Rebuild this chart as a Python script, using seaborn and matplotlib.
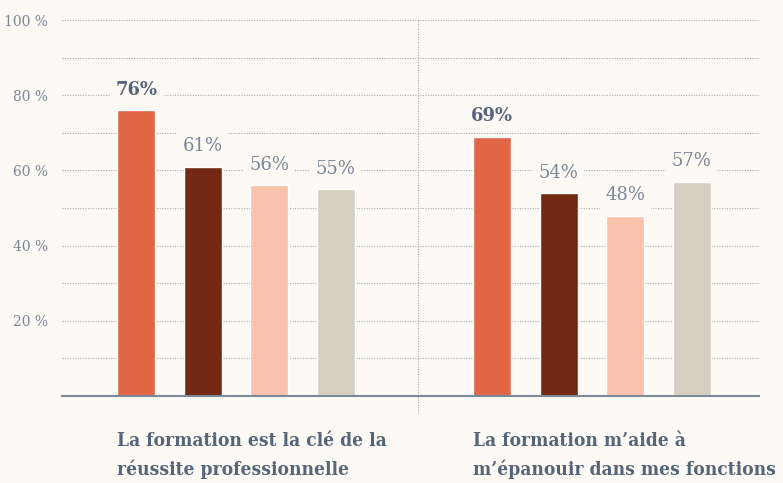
import matplotlib
matplotlib.use("Agg")
import matplotlib.pyplot as plt
import matplotlib.transforms as mtransforms
import seaborn as sns
import pandas as pd

# Survey statements (x groups) and the four respondent series
statements = [
    "La formation est la clé de la\nréussite professionnelle",
    "La formation m’aide à\nm’épanouir dans mes fonctions",
]
series = ["S1", "S2", "S3", "S4"]
values_statement_1 = [76, 61, 56, 55]
values_statement_2 = [69, 54, 48, 57]
y_ticks = [20, 40, 60, 80, 100]
y_tick_labels = ["20 %", "40 %", "60 %", "80 %", "100 %"]

colors = ["#e06646", "#732814", "#f9c2ad", "#d6cec0"]
bg = "#fdf9f4"
text_dark = "#56667a"
text_light = "#7a8799"

df = pd.DataFrame({
    "statement": [statements[0]] * 4 + [statements[1]] * 4,
    "series": series * 2,
    "value": values_statement_1 + values_statement_2,
})

sns.set_theme(style="white")
plt.rcParams["font.family"] = ["DejaVu Serif", "DejaVu Sans"]

fig = plt.figure(figsize=(7.83, 4.83), dpi=100, facecolor=bg)
W, H = 783, 483
ax = fig.add_axes([62 / W, (H - 396) / H, (759 - 62) / W, 376 / H])
ax.set_facecolor(bg)

sns.barplot(
    data=df, x="statement", y="value", hue="series", hue_order=series,
    palette=colors, width=0.747, gap=0.43, saturation=1, legend=False,
    ax=ax, zorder=3,
)

ax.set_xlim(-0.4888, 1.469)
ax.set_ylim(0, 100)

# dotted gridlines every 10 %
for y in range(10, 101, 10):
    ax.axhline(y, color="#a3acb6", lw=0.8, ls=(0, (1, 1.3)), zorder=1)

# baseline
for s in ["top", "right", "left"]:
    ax.spines[s].set_visible(False)
ax.spines["bottom"].set_color("#7d8a99")
ax.spines["bottom"].set_linewidth(1.5)
ax.spines["bottom"].set_zorder(4)

ax.set_yticks(y_ticks)
ax.set_yticklabels(y_tick_labels, color=text_light, fontsize=10)
ax.tick_params(axis="y", length=0, pad=10)
ax.set_xticks([])
ax.set_xlabel("")
ax.set_ylabel("")

# vertical divider between the two statements
ax.plot([0.511, 0.511], [-4.5, 100], color="#a3acb6", lw=0.8,
        ls=(0, (1, 1.3)), clip_on=False, zorder=2)

# value labels above bars
all_vals = [values_statement_1, values_statement_2]
for gi, vals in enumerate(all_vals):
    for bi, v in enumerate(vals):
        xc = gi + (bi - 1.5) * 0.18675
        first = bi == 0
        ax.text(xc, v + 3.0, f"{v}%", ha="center", va="bottom",
                fontsize=13, fontweight="bold" if first else "normal",
                color=text_dark if first else text_light, zorder=5,
                bbox=dict(boxstyle="square,pad=0.3", fc=bg, ec="none"))

# statement labels under each group
trans = mtransforms.blended_transform_factory(ax.transData, ax.transAxes)
for gi, label in enumerate(statements):
    ax.text(gi - 0.334, -0.097, label, transform=trans, ha="left", va="top",
            fontsize=13.8, fontweight="bold", color=text_dark,
            linespacing=1.6, fontstretch="condensed")

fig.savefig("out.png", dpi=100, facecolor=bg)
